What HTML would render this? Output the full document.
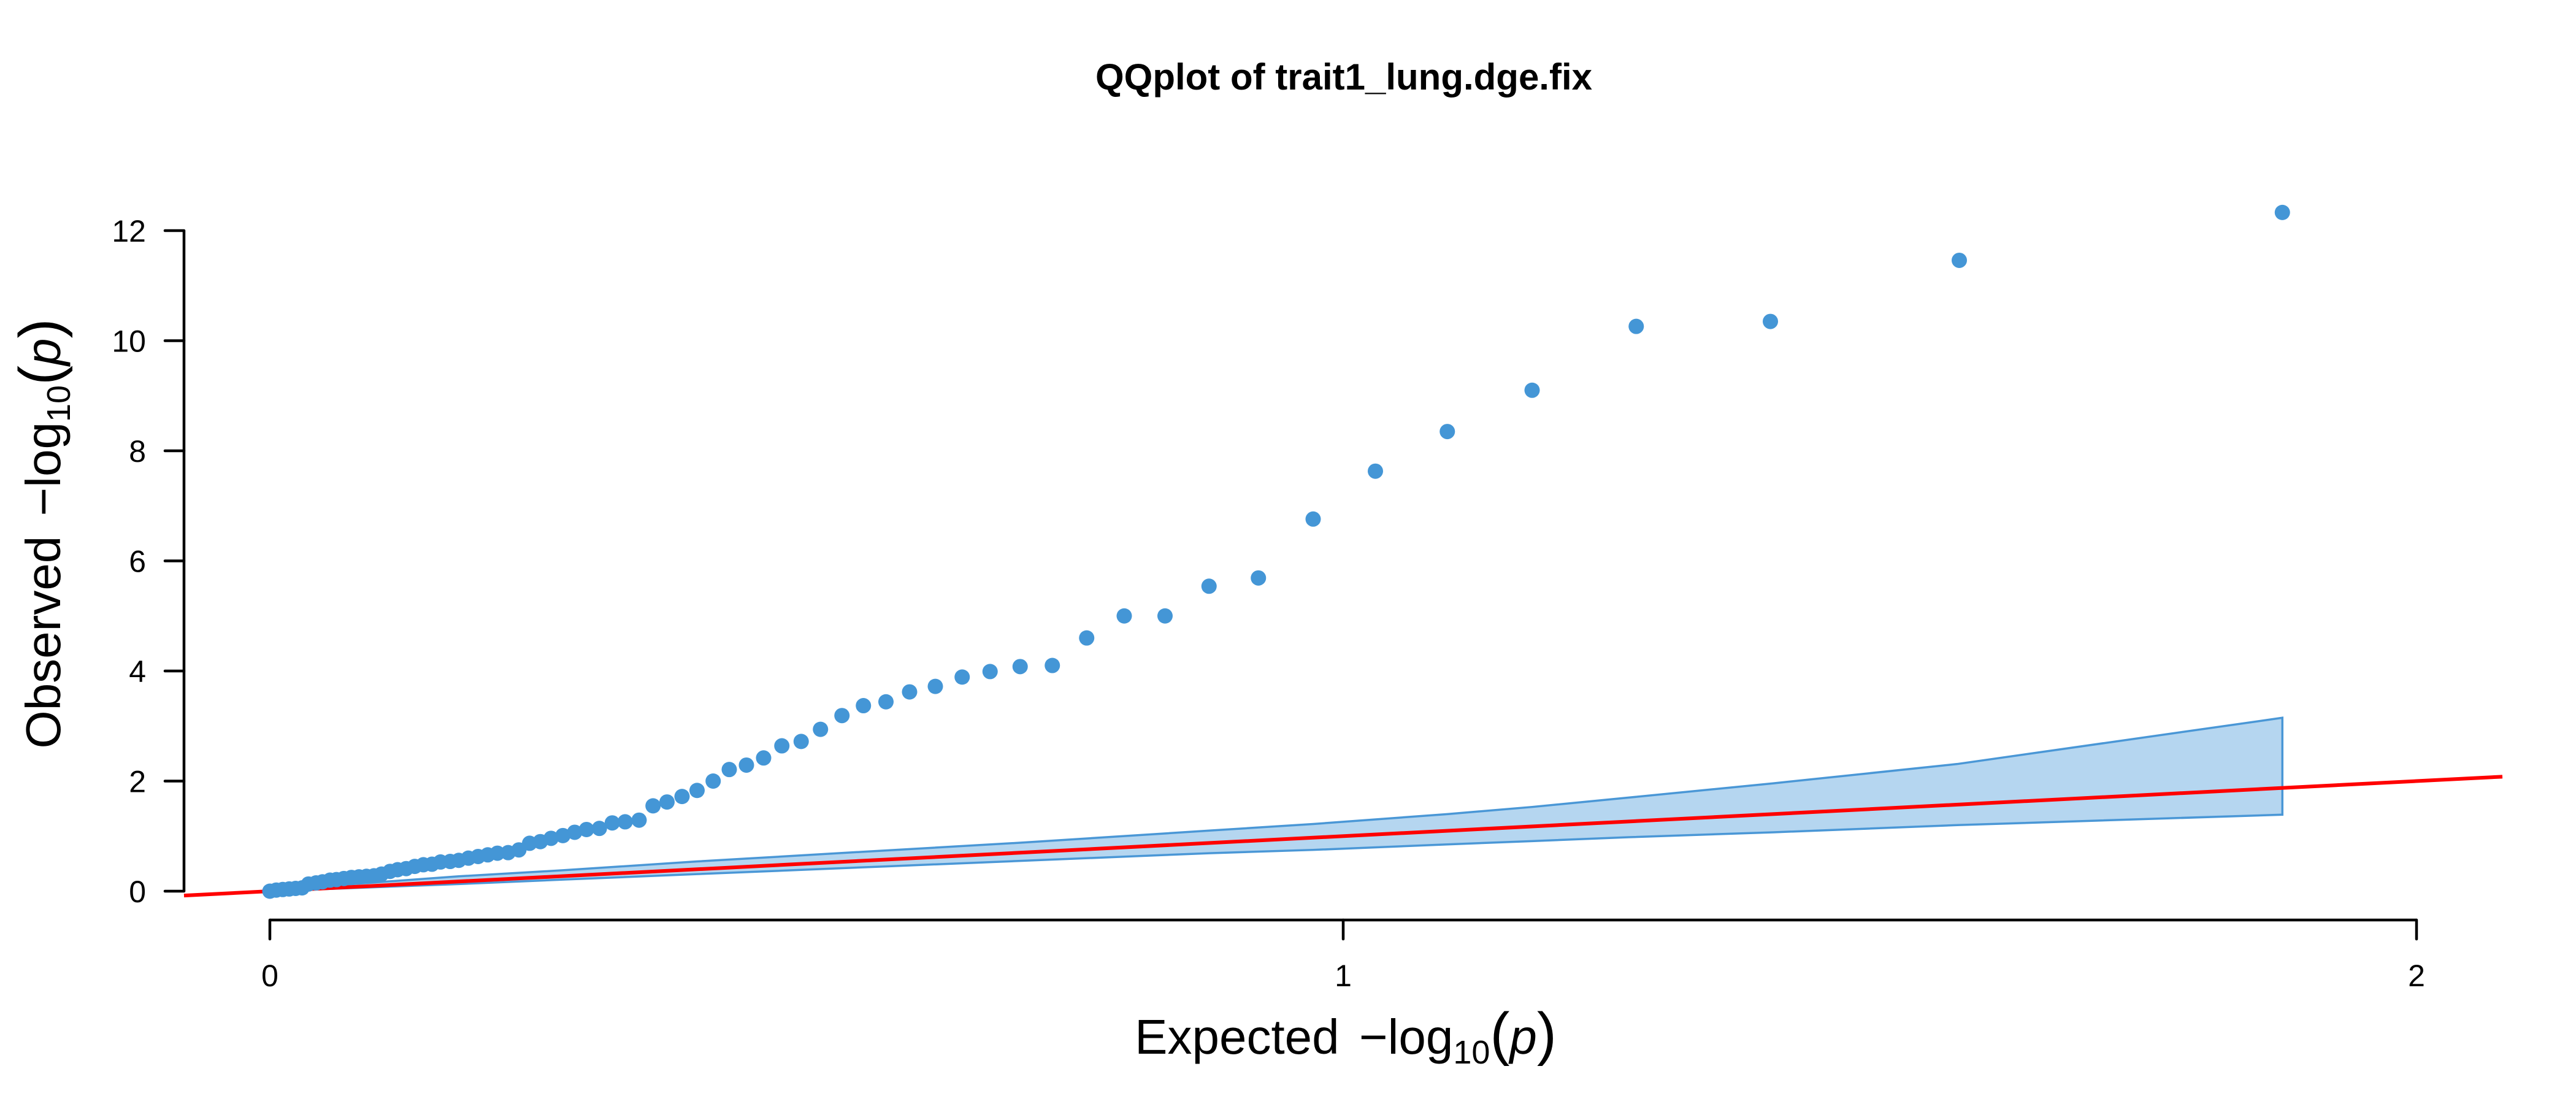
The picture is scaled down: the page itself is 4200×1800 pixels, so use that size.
<!DOCTYPE html>
<html>
<head>
<meta charset="utf-8">
<style>
  html,body{margin:0;padding:0;background:#fff;}
  svg{display:block;font-family:"Liberation Sans",Arial,sans-serif;}
</style>
</head>
<body>
<svg id="chart" width="4200" height="1800" viewBox="0 0 4200 1800" xmlns="http://www.w3.org/2000/svg">
  <rect width="4200" height="1800" fill="#ffffff"/>
  <text x="2191" y="146" text-anchor="middle" font-size="60" font-weight="bold">QQplot of trait1_lung.dge.fix</text>
  <g id="band"></g>
  <g id="refline"></g>
  <g id="points"></g>
  <g id="axes"></g>
  <text x="2194" y="1718" text-anchor="middle" font-size="80">Expected <tspan dx="10">−log</tspan><tspan font-size="54" dy="16">10</tspan><tspan dy="-16" font-size="96">(</tspan><tspan font-style="italic">p</tspan><tspan font-size="96">)</tspan></text>
  <text x="0" y="0" transform="translate(98,870) rotate(-90)" text-anchor="middle" font-size="80">Observed <tspan dx="10">−log</tspan><tspan font-size="54" dy="16">10</tspan><tspan dy="-16" font-size="96">(</tspan><tspan font-style="italic">p</tspan><tspan font-size="96">)</tspan></text>
</svg>
<script>
const expected = [1.875,1.574,1.398,1.273,1.176,1.097,1.030,0.972,0.921,0.875,
  0.834,0.796,0.761,0.729,0.699,0.671,0.645,0.620,0.596,0.574,
  0.553,0.533,0.513,0.495,0.477,0.460,0.444,0.428,0.413,0.398,
  0.384,0.370,0.357,0.344,0.331,0.319,0.307,0.295,0.284,0.273,
  0.262,0.252,0.242,0.232,0.222,0.212,0.203,0.194,0.185,0.176,
  0.168,0.159,0.151,0.143,0.135,0.127,0.119,0.112,0.104,0.097,
  0.090,0.083,0.076,0.069,0.062,0.056,0.049,0.043,0.036,0.030,
  0.024,0.018,0.012,0.006,0.000];
const observed = [12.33,11.46,10.35,10.26,9.10,8.35,7.63,6.76,5.69,5.54,
  5.00,5.00,4.60,4.10,4.08,3.99,3.89,3.72,3.62,3.44,
  3.37,3.19,2.94,2.72,2.64,2.42,2.29,2.21,2.00,1.83,
  1.72,1.62,1.55,1.29,1.26,1.24,1.14,1.12,1.07,1.01,
  0.96,0.90,0.87,0.75,0.70,0.69,0.66,0.63,0.60,0.56,
  0.54,0.53,0.49,0.48,0.45,0.41,0.39,0.36,0.31,0.28,
  0.27,0.26,0.25,0.23,0.21,0.20,0.17,0.15,0.13,0.06,
  0.05,0.04,0.03,0.02,0.00];
const bandX     = [1.875,1.572,1.401,1.266,1.176,1.097,0.972,0.875,0.699,0.574,0.398,0.273,0.176,0.000];
const bandUpper = [3.15,2.31,1.96,1.70,1.53,1.40,1.22,1.10,0.88,0.74,0.54,0.38,0.27,0.02];
const bandLower = [1.39,1.20,1.07,0.98,0.91,0.85,0.75,0.69,0.55,0.45,0.31,0.21,0.13,0.00];
const xTicks = [0,1,2];
const yTicks = [0,2,4,6,8,10,12];
const refLine = [-0.0800,2.0800];

const NS = "http://www.w3.org/2000/svg";
const X0 = 440, XS = 1750, Y0 = 1453, YS = 89.75;
function sx(v){ return X0 + v*XS; }
function sy(v){ return Y0 - v*YS; }
function mk(tag, attrs, parent){
  const e = document.createElementNS(NS, tag);
  for (const k in attrs) e.setAttribute(k, attrs[k]);
  parent.appendChild(e);
  return e;
}

const bandG = document.getElementById('band');
let pts = [];
for (let i=0;i<bandX.length;i++) pts.push(sx(bandX[i])+','+sy(bandUpper[i]));
for (let i=bandX.length-1;i>=0;i--) pts.push(sx(bandX[i])+','+sy(bandLower[i]));
const poly = mk('polygon',{points:pts.join(' '),fill:'#b5d6f0',stroke:'#4a97d6','stroke-width':3.5,'stroke-linejoin':'miter'},bandG);



const refG = document.getElementById('refline');
const rl = mk('line',{x1:sx(refLine[0]),y1:sy(refLine[0]),x2:sx(refLine[1]),y2:sy(refLine[1]),stroke:'#ff0000','stroke-width':6},refG);



const ptG = document.getElementById('points');
for (let i=expected.length-1;i>=0;i--){
  const c = mk('circle',{cx:sx(expected[i]),cy:sy(observed[i]),r:12.5,fill:'#4496d6'},ptG);
  
  
}

const ax = document.getElementById('axes');
const yAxisX = 300;
const yl = mk('line',{x1:yAxisX,y1:sy(yTicks[yTicks.length-1]),x2:yAxisX,y2:sy(yTicks[0]),stroke:'#000','stroke-width':4.5},ax);


for (const t of yTicks){
  const tl = mk('line',{x1:yAxisX-31,y1:sy(t),x2:yAxisX,y2:sy(t),stroke:'#000','stroke-width':4.5,'stroke-linecap':'round'},ax);
  
  
  const tx = mk('text',{x:238,y:sy(t)+18,'text-anchor':'end','font-size':50},ax);
  tx.textContent = String(t);
  
  
}
const xAxisY = 1500;
const xl = mk('line',{x1:sx(xTicks[0]),y1:xAxisY,x2:sx(xTicks[xTicks.length-1]),y2:xAxisY,stroke:'#000','stroke-width':4.5},ax);


for (const t of xTicks){
  const tl = mk('line',{x1:sx(t),y1:xAxisY,x2:sx(t),y2:xAxisY+31,stroke:'#000','stroke-width':4.5,'stroke-linecap':'round'},ax);
  
  
  const tx = mk('text',{x:sx(t),y:1608,'text-anchor':'middle','font-size':50},ax);
  tx.textContent = String(t);
  
  
}
</script>
</body>
</html>
